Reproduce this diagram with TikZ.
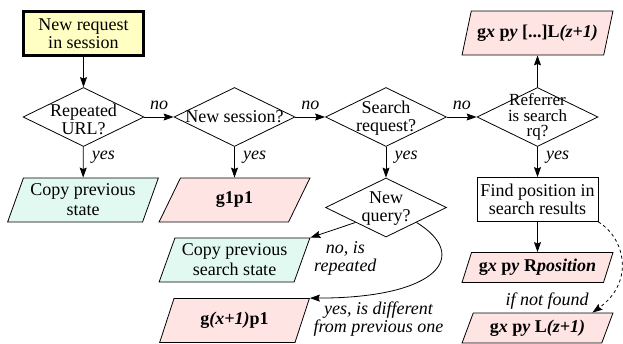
\documentclass[tikz,border=0pt]{standalone}
\usepackage{fontspec}
\setmainfont{Liberation Serif}
\usetikzlibrary{arrows.meta,shapes.geometric,calc}
\definecolor{startyellow}{RGB}{255,255,196}
\definecolor{outpink}{RGB}{255,228,228}
\definecolor{outgreen}{RGB}{226,249,241}

\begin{document}
\begin{tikzpicture}[x=1pt, y=-1pt, line width=0.8pt, font=\fontsize{18}{18}\selectfont,
      startbox/.style={rectangle, draw, line width=2.8pt, fill=startyellow, align=center,
                minimum width=120pt, minimum height=44pt},
      dec/.style={diamond, draw, inner sep=0pt, minimum width=121pt, minimum height=59pt},
      io/.style={trapezium, trapezium left angle=69, trapezium right angle=111,
                trapezium stretches=true, draw, align=center, font=\fontsize{18}{20}\selectfont,
                minimum width=151pt, minimum height=44pt},
      plain/.style={rectangle, draw, align=center, minimum width=121pt, minimum height=44pt},
      lab/.style={font=\fontsize{18}{18}\selectfont\itshape, align=center},
      arr/.style={-{Stealth[length=10pt, width=7pt, inset=1.5pt]}}]
    \useasboundingbox (0,0) rectangle (623,343);

    \node[startbox] (start) at (83.5,33.5) {New request\\in session};

    \node[dec, label={[align=center, yshift=-2pt]center:Repeated\\URL?}] (rep) at (83.5,117) {};
    \node[dec, label={center:New session?}] (newsess) at (234.5,117) {};
    \node[dec, label={[align=center, yshift=-1pt]center:Search\\request?}] (search) at (386,117) {};
    \node[dec, label={[align=center, inner sep=1pt, font=\fontsize{17}{15.5}\selectfont]center:Referrer\\is search\\rq?}] (referrer) at (537.5,117) {};

    \node[io, fill=outgreen] (copystate) at (83,200) {Copy previous\\state};
    \node[io, fill=outpink] (gonep) at (234.5,200) {\textbf{g1p1}};
    \node[dec, label={[align=center, yshift=-1pt]center:New\\query?}] (newq) at (386,207.5) {};
    \node[io, fill=outgreen] (copysearch) at (234.5,260) {Copy previous\\search state};
    \node[io, fill=outpink] (gnext) at (234.5,320.5) {\textbf{g\textit{(x+1)}p1}};

    \node[io, fill=outpink] (lup) at (537.5,33) {\textbf{g\textit{x} p\textit{y} [...]L\textit{(z+1)}}};
    \node[plain] (findpos) at (537.5,199.5) {Find position in\\search results};
    \node[io, fill=outpink, minimum height=30pt] (rpos) at (537.5,267.5) {\textbf{g\textit{x} p\textit{y} R\textit{position}}};
    \node[io, fill=outpink, minimum height=30pt] (lnext) at (537.5,328) {\textbf{g\textit{x} p\textit{y} L\textit{(z+1)}}};

    \draw[arr] (start) -- (rep);
    \draw[arr] (rep) -- node[lab, above=4pt] {no} (newsess);
    \draw[arr] (newsess) -- node[lab, above=4pt] {no} (search);
    \draw[arr] (search) -- node[lab, above=4pt] {no} (referrer);

    \draw[arr] (rep) -- node[lab, right=5pt, pos=.35] {yes} (copystate);
    \draw[arr] (newsess) -- node[lab, right=5pt, pos=.35] {yes} (gonep);
    \draw[arr] (search) -- node[lab, right=5pt, pos=.35] {yes} (newq);
    \draw[arr] (referrer) -- node[lab, right=5pt, pos=.35] {yes} (findpos);
    \draw[arr] (referrer) -- (lup);
    \draw[arr] (findpos) -- (rpos);

    \draw[arr] ($(newq.west)!.5!(newq.south)$) -- node[lab, at end, below right] {no, is\\repeated} (copysearch.top right corner);
    \draw[arr] ($(newq.east)!.5!(newq.south)$) .. controls (470,255) and (440,298) ..
        node[lab, at end, below right] {yes, is different\\from previous one} (gnext.top right corner);
    \draw[arr, dashed] (findpos.south east) .. controls (625,238) and (635,282) ..
        node[lab, at end, above left] {if not found} ($(lnext.top right corner)!.15!(lnext.top left corner)$);
  \end{tikzpicture}
\end{document}
